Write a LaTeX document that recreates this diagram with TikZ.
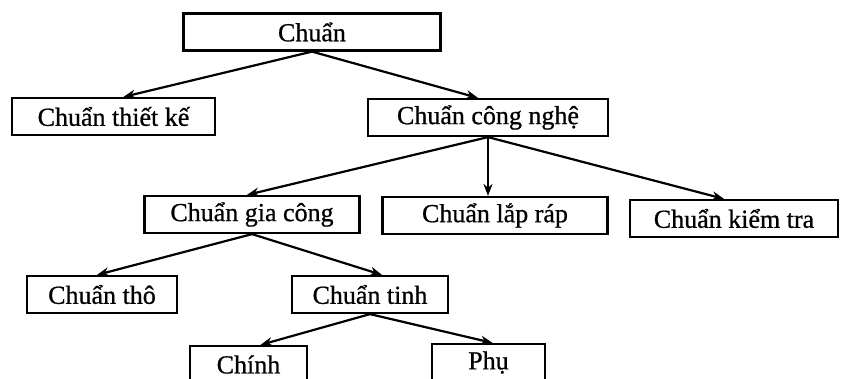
\documentclass[tikz,border=0pt]{standalone}
\usepackage{fontspec}
\setmainfont{Liberation Serif}
\newfontfamily\scanfont[FakeBold=0.8]{Liberation Serif}
\usetikzlibrary{arrows,arrows.meta,positioning}
\tikzstyle{block} = [rectangle, draw, line width=2.2pt, minimum height=37pt, inner sep=2pt, font=\scanfont\fontsize{26}{28}\selectfont]

\begin{document}
\begin{tikzpicture}[x=1pt, y=1pt, line width=2.2pt, >={Stealth[length=12pt,width=9pt]}]
        \useasboundingbox (-312,32) rectangle (529,-346);
        \clip (-312,32) rectangle (529,-346);

        \node[block, minimum width=257pt] (a) {Chuẩn};
        \node[block, below of=a, node distance=84.5pt, xshift=-198.5pt, minimum width=203pt] (b) {Chuẩn thiết kế};
        \node[block, below of=a, node distance=85.5pt, xshift=176pt, minimum width=240pt] (c) {Chuẩn công nghệ};

        \node[block, below of=c, node distance=97pt, xshift=-236pt, minimum width=215pt] (d1) {Chuẩn gia công};
        \node[block, below of=c, node distance=98pt, xshift=7pt, minimum width=225pt] (d2) {Chuẩn lắp ráp};
        \node[block, below of=c, node distance=101pt, xshift=246pt, minimum width=208pt] (d3) {Chuẩn kiểm tra};

        \node[block, below of=d1, node distance=80pt, xshift=-150pt, minimum width=150pt] (e1) {Chuẩn thô};
        \node[block, below of=d1, node distance=80pt, xshift=118pt, minimum width=156pt] (e2) {Chuẩn tinh};

        \node[block, below of=e2, node distance=70pt, xshift=-121.5pt, minimum width=117pt] (f1) {Chính};
        \node[block, below of=e2, node distance=68pt, xshift=118.5pt, minimum width=113pt] (f2) {Phụ};

        \draw[->] (a.south) -- ([xshift=10pt]b.north);
        \draw[->] (a.south) -- ([xshift=-10pt]c.north);
        \draw[->] (c.south) -- ([xshift=-5pt]d1.north);
        \draw[->] (c.south) -- (c.south |- d2.north);
        \draw[->] (c.south) -- ([xshift=-10pt]d3.north);
        \draw[->] (d1.south) -- ([xshift=-5pt]e1.north);
        \draw[->] (d1.south) -- ([xshift=12pt]e2.north);
        \draw[->] (e2.south) -- ([xshift=12pt]f1.north);
        \draw[->] (e2.south) -- ([xshift=4pt]f2.north);
    \end{tikzpicture}
\end{document}
